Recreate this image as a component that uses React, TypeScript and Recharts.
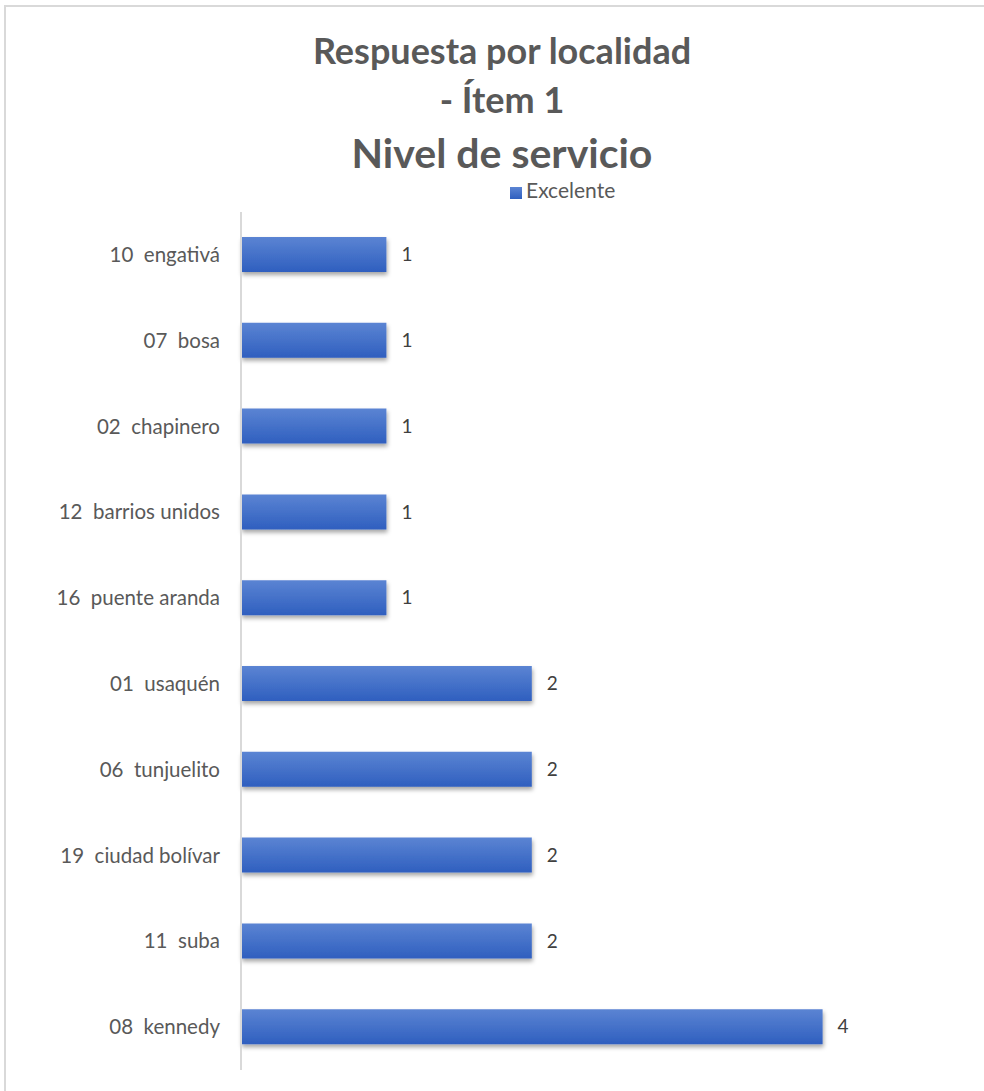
import { Bar, BarChart, LabelList, Legend, XAxis, YAxis } from "recharts";

const localidades = [
  "10  engativá",
  "07  bosa",
  "02  chapinero",
  "12  barrios unidos",
  "16  puente aranda",
  "01  usaquén",
  "06  tunjuelito",
  "19  ciudad bolívar",
  "11  suba",
  "08  kennedy",
];
const excelente = [1, 1, 1, 1, 1, 2, 2, 2, 2, 4];
const titleLines = ["Respuesta por localidad", "- Ítem 1"];
const subtitle = "Nivel de servicio";

const data = localidades.map((name, i) => ({ name, Excelente: excelente[i] }));

const FONT = "Lato, 'Open Sans', sans-serif";

// keeps the double space of the labels (svg text collapses it otherwise)
const LocalidadTick = (props: any) => {
  const { x, y, payload } = props;
  return (
    <text x={x} y={y} dy="0.35em" textAnchor="end" fill="#595959" fontSize={20.5} fontFamily={FONT} style={{ whiteSpace: "pre" }}>
      {payload.value}
    </text>
  );
};

const App = () => {
  return (
    <div style={{ position: "absolute", left: 0, top: 0, width: 984, height: 1091, overflow: "hidden", background: "#fff", fontFamily: FONT }}>
      <div style={{ position: "absolute", left: 4, top: 5, width: 1100, height: 1200, border: "2px solid #d9d9d9", boxSizing: "border-box" }} />
      <div style={{ position: "absolute", left: 0, top: 26, width: 1004, textAlign: "center", color: "#595959", fontWeight: 700 }}>
        <div style={{ fontSize: 36, lineHeight: "48px" }}>{titleLines[0]}</div>
        <div style={{ fontSize: 36, lineHeight: "50px" }}>{titleLines[1]}</div>
        <div style={{ fontSize: 41, lineHeight: "58px" }}>{subtitle}</div>
      </div>
      <div style={{ position: "absolute", left: 0, top: 0 }}>
        <BarChart
          width={984}
          height={1091}
          data={data}
          layout="vertical"
          margin={{ top: 186, right: 16, bottom: 21, left: 0 }}
        >
          <defs>
            <linearGradient id="barFill" x1="0" y1="0" x2="0" y2="1">
              <stop offset="0%" stopColor="#5b84d3" />
              <stop offset="100%" stopColor="#2f5fbf" />
            </linearGradient>
            <filter id="barShadow" x="-5%" y="-20%" width="115%" height="160%">
              <feDropShadow dx="1" dy="3" stdDeviation="2" floodColor="#000" floodOpacity="0.35" />
            </filter>
          </defs>
          <XAxis type="number" domain={[0, 5]} hide />
          <YAxis
            type="category"
            dataKey="name"
            width={241}
            tickLine={false}
            tickSize={0}
            tickMargin={21}
            axisLine={{ stroke: "#d9d9d9", strokeWidth: 2 }}
            tick={<LocalidadTick />}
            interval={0}
          />
          <Legend
            verticalAlign="top"
            align="left"
            iconType="square"
            iconSize={12}
            wrapperStyle={{ position: "absolute", top: 177, left: 510, width: 200, fontSize: 21, fontFamily: FONT, lineHeight: "26px" }}
            formatter={(value) => <span style={{ color: "#595959" }}>{value}</span>}
          />
          <Bar
            dataKey="Excelente"
            fill="url(#barFill)"
            barSize={35}
            filter="url(#barShadow)"
            isAnimationActive={false}
            legendType="square"
          >
            <LabelList dataKey="Excelente" position="right" offset={15} fill="#404040" fontSize={19} fontFamily={FONT} />
          </Bar>
        </BarChart>
      </div>
    </div>
  );
};

export default App;
